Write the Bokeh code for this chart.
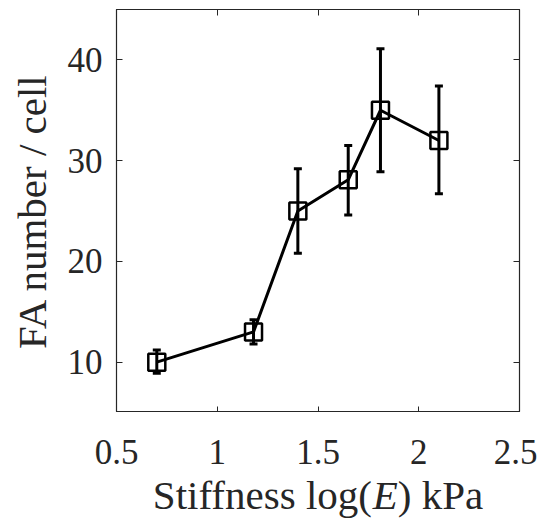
from bokeh.plotting import figure
from bokeh.layouts import column
from bokeh.models import Whisker, ColumnDataSource, LinearAxis, Range1d, FixedTicker, Label
from bokeh.embed import file_html
from bokeh.resources import INLINE

stiffness = [0.70, 1.18, 1.40, 1.65, 1.81, 2.10]
fa_number = [10.0, 13.0, 25.0, 28.1, 35.0, 32.0]
err_upper = [11.2, 14.2, 29.2, 31.5, 41.1, 37.4]
err_lower = [8.9, 11.8, 20.8, 24.6, 28.9, 26.7]
x_ticks = [0.5, 1, 1.5, 2, 2.5]
y_ticks = [10, 20, 30, 40]
x_label_parts = ["Stiffness log(", "E", ") kPa"]
y_label = "FA number / cell"

src = ColumnDataSource(dict(x=stiffness, y=fa_number, up=err_upper, lo=err_lower))

FONT = "Liberation Serif"
GRAY = "#262626"
FW, FH = 403, 403
BL, BT, BR = 116, 9, 18
LABEL_FS = 41
TOP2, H2 = 57, 52
LABEL_Y = 27

xr = Range1d(0.5, 2.5)
p = figure(output_backend="svg", toolbar_location=None,
           frame_width=FW, frame_height=FH,
           x_range=xr, y_range=Range1d(5, 45),
           min_border_left=BL, min_border_top=BT, min_border_right=BR,
           min_border_bottom=0, y_axis_label=y_label)
p.background_fill_color = "white"
p.border_fill_color = "white"
p.grid.visible = False
p.outline_line_color = GRAY
p.outline_line_width = 1.2


def hidden_labels(ax):
    ax.major_label_text_font_size = "1px"
    ax.major_label_text_color = None
    ax.major_label_standoff = 0


for ax in (p.xaxis[0], p.yaxis[0]):
    ax.axis_line_color = GRAY
    ax.major_tick_in = 6
    ax.major_tick_out = 0
    ax.minor_tick_line_color = None
    ax.major_tick_line_color = GRAY
    ax.major_label_text_font = FONT
    ax.major_label_text_font_size = "35px"
    ax.major_label_text_color = GRAY
    ax.axis_label_text_font = FONT
    ax.axis_label_text_font_size = f"{LABEL_FS}px"
    ax.axis_label_text_font_style = "normal"
    ax.axis_label_text_color = GRAY
p.xaxis[0].ticker = FixedTicker(ticks=x_ticks)
p.yaxis[0].ticker = FixedTicker(ticks=y_ticks)
hidden_labels(p.xaxis[0])
p.yaxis[0].major_label_standoff = 14
p.yaxis[0].axis_label_standoff = 10

top = LinearAxis(ticker=FixedTicker(ticks=x_ticks), major_tick_in=6, major_tick_out=0,
                 minor_tick_line_color=None, axis_line_color=GRAY, major_tick_line_color=GRAY)
right = LinearAxis(ticker=FixedTicker(ticks=y_ticks), major_tick_in=6, major_tick_out=0,
                   minor_tick_line_color=None, axis_line_color=GRAY, major_tick_line_color=GRAY)
hidden_labels(top)
hidden_labels(right)
p.add_layout(top, "above")
p.add_layout(right, "right")

w = Whisker(source=src, base="x", upper="up", lower="lo", dimension="height",
            line_color="black", line_width=3)
w.upper_head.size = 8
w.lower_head.size = 8
w.upper_head.line_width = 3
w.lower_head.line_width = 3
p.add_layout(w)

p.line("x", "y", source=src, line_color="black", line_width=3)
p.scatter("x", "y", source=src, marker="square", size=17, fill_color=None,
          line_color="black", line_width=2.5)

# strip below the plot: x tick labels and the x-axis label (with italic E)
p2 = figure(output_backend="svg", toolbar_location=None,
            frame_width=FW, frame_height=H2, x_range=xr, y_range=Range1d(0, 1),
            x_axis_location="above", y_axis_type=None,
            min_border_left=BL, min_border_right=BR, min_border_top=TOP2, min_border_bottom=0)
p2.outline_line_color = None
p2.grid.visible = False
p2.background_fill_color = "white"
p2.border_fill_color = "white"
xa = p2.xaxis[0]
xa.ticker = FixedTicker(ticks=x_ticks)
xa.axis_line_color = None
xa.major_tick_line_color = None
xa.minor_tick_line_color = None
xa.major_label_standoff = 0
xa.major_label_text_font = FONT
xa.major_label_text_font_size = "35px"
xa.major_label_text_color = GRAY

em_widths = [5.361, 0.611, 2.083]
total = sum(em_widths) * LABEL_FS
start = FW / 2 - total / 2
styles = ["normal", "italic", "normal"]
offs = 0.0
for txt, wem, st in zip(x_label_parts, em_widths, styles):
    p2.add_layout(Label(x=start + offs, y=LABEL_Y, x_units="screen", y_units="screen",
                        text=txt, text_font=FONT, text_font_size=f"{LABEL_FS}px",
                        text_font_style=st, text_color=GRAY,
                        text_align="left", text_baseline="alphabetic"))
    offs += wem * LABEL_FS

layout = column(p, p2, spacing=0)
open("out.html", "w").write(file_html(layout, INLINE))
